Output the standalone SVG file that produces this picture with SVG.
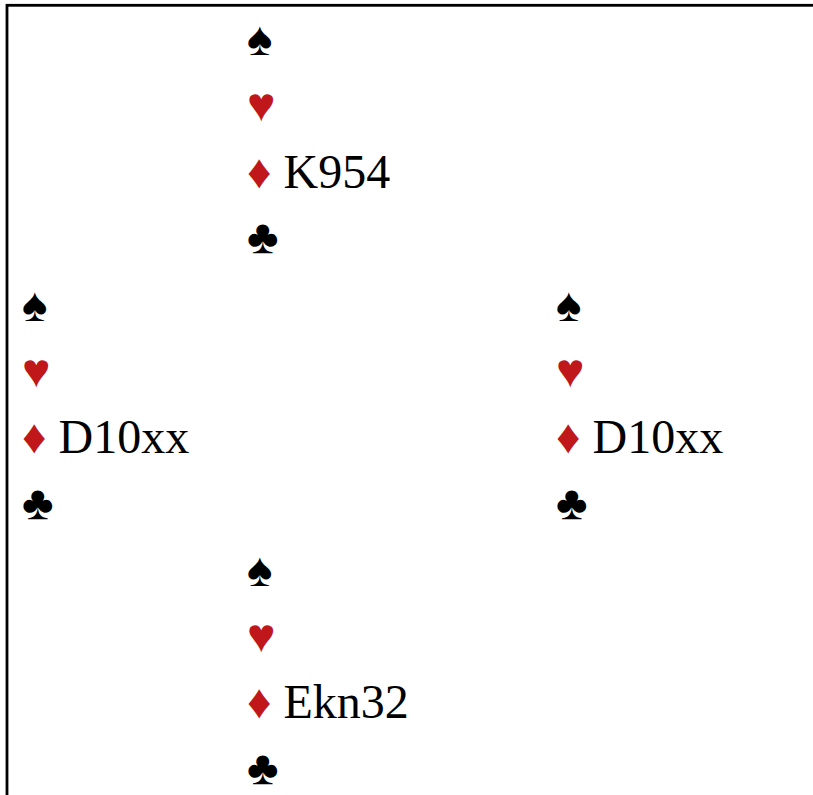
<svg xmlns="http://www.w3.org/2000/svg" width="813" height="795" viewBox="0 0 813 795">
<style>
text{font-family:"Liberation Serif","Times New Roman",serif;font-size:48px;fill:#000}
.r{fill:#c0171a}
.b{fill:#000}
</style>
<rect x="0" y="0" width="813" height="795" fill="#fff"/>
<rect id="frame" x="7" y="5.3" width="830" height="820" fill="none" stroke="#000" stroke-width="2.8"/>
<g id="north">
<text x="247" y="55">♠</text>
<text x="247" y="121" class="r">♥</text>
<text x="247" y="188"><tspan class="r">♦</tspan> K954</text>
<text x="247" y="253">♣</text>
</g>
<g id="west">
<text x="22" y="321">♠</text>
<text x="22" y="387" class="r">♥</text>
<text x="22" y="453"><tspan class="r">♦</tspan> D10xx</text>
<text x="22" y="519">♣</text>
</g>
<g id="east">
<text x="556" y="321">♠</text>
<text x="556" y="387" class="r">♥</text>
<text x="556" y="453"><tspan class="r">♦</tspan> D10xx</text>
<text x="556" y="519">♣</text>
</g>
<g id="south">
<text x="247" y="586">♠</text>
<text x="247" y="652" class="r">♥</text>
<text x="247" y="718"><tspan class="r">♦</tspan> Ekn32</text>
<text x="247" y="784">♣</text>
</g>
</svg>
